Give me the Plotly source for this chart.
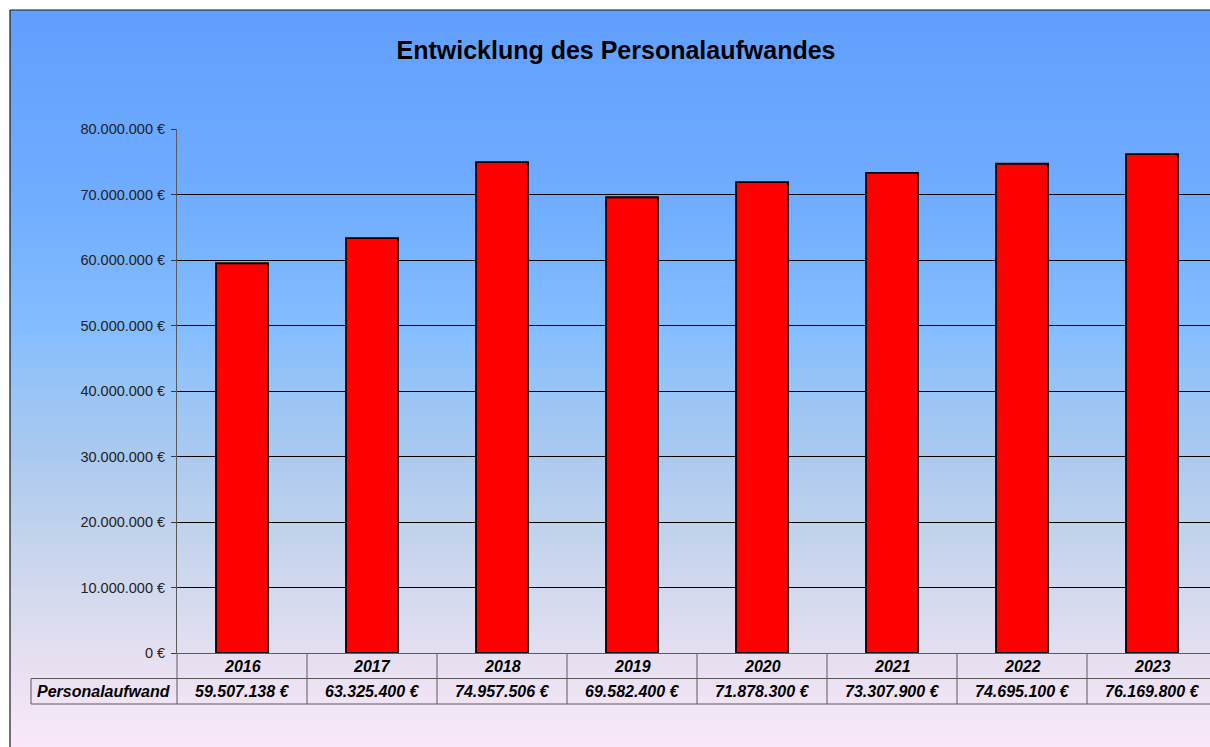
"""Entwicklung des Personalaufwandes - bar chart with data table."""
import base64
import struct
import zlib

import plotly.graph_objects as go

YEARS = ["2016", "2017", "2018", "2019", "2020", "2021", "2022", "2023"]
PERSONALAUFWAND = [59507138, 63325400, 74957506, 69582400,
                   71878300, 73307900, 74695100, 76169800]
SERIES_NAME = "Personalaufwand"
TITLE = "Entwicklung des Personalaufwandes"

# background gradient stops (fraction from top, rgb)
GRADIENT = [
    (0.00, (97, 159, 255)),
    (0.25, (112, 172, 255)),
    (0.43, (132, 189, 255)),
    (0.50, (150, 196, 248)),
    (0.60, (170, 201, 240)),
    (0.70, (192, 210, 236)),
    (0.80, (214, 218, 238)),
    (0.90, (234, 225, 242)),
    (1.00, (250, 233, 248)),
]

W, H = 1210, 747
L, R, T, B = 177, 0, 129, 747 - 653
PW, PH = W - L - R, H - T - B


def px_x(px):
    """pixel x -> paper x"""
    return (px - L) / PW


def px_y(py):
    """pixel y -> paper y"""
    return (H - B - py) / PH


def gradient_png(stops, rows=256):
    raw = b""
    for r in range(rows):
        f = r / (rows - 1)
        for (f0, c0), (f1, c1) in zip(stops, stops[1:]):
            if f0 <= f <= f1:
                t = (f - f0) / (f1 - f0)
                rgb = [round(a + (b - a) * t) for a, b in zip(c0, c1)]
                break
        raw += b"\x00" + bytes(rgb)

    def chunk(tag, data):
        body = tag + data
        return struct.pack(">I", len(data)) + body + struct.pack(">I", zlib.crc32(body) & 0xFFFFFFFF)

    png = b"\x89PNG\r\n\x1a\n"
    png += chunk(b"IHDR", struct.pack(">IIBBBBB", 1, rows, 8, 2, 0, 0, 0))
    png += chunk(b"IDAT", zlib.compress(raw))
    png += chunk(b"IEND", b"")
    return "data:image/png;base64," + base64.b64encode(png).decode()


def euro(v):
    return f"{v:,}".replace(",", ".") + " €"


FONT = "Liberation Sans, Arial, sans-serif"
TABLE_LINE = "#5a5a5a"
TABLE_FONT = {"family": FONT, "size": 16, "color": "#000"}

fig = go.Figure()
fig.add_trace(go.Bar(
    x=YEARS,
    y=PERSONALAUFWAND,
    name=SERIES_NAME,
    width=0.4,
    marker={"color": "#ff0000", "line": {"color": "#000000", "width": 1.8}},
    hoverinfo="x+y",
))

# background image + chart frame
fig.add_layout_image(
    source=gradient_png(GRADIENT),
    xref="paper", yref="paper",
    x=px_x(10), y=px_y(10),
    sizex=(1240 - 10) / PW, sizey=(749 - 10) / PH,
    sizing="stretch", layer="below",
    xanchor="left", yanchor="top",
)

line = {"color": TABLE_LINE, "width": 1}
shapes = [
    # frame left + top
    dict(type="line", xref="paper", yref="paper", x0=px_x(10), x1=px_x(10),
         y0=px_y(10), y1=px_y(760), line={"color": "#1a1a1a", "width": 1.2}),
    dict(type="line", xref="paper", yref="paper", x0=px_x(10), x1=px_x(1230),
         y0=px_y(10), y1=px_y(10), line={"color": "#1a1a1a", "width": 1.2}),
    # table: left edge below axis
    dict(type="line", xref="x domain", yref="paper", x0=0, x1=0,
         y0=0, y1=px_y(704), line=line),
    # table: row separators
    dict(type="line", xref="paper", yref="paper", x0=px_x(31), x1=1,
         y0=px_y(678.5), y1=px_y(678.5), line=line),
    dict(type="line", xref="paper", yref="paper", x0=px_x(31), x1=1,
         y0=px_y(704), y1=px_y(704), line=line),
    dict(type="line", xref="paper", yref="paper", x0=px_x(31), x1=px_x(31),
         y0=px_y(678.5), y1=px_y(704), line=line),
]
# column separators between categories
for i in range(1, len(YEARS)):
    shapes.append(dict(type="line", xref="x", yref="paper", x0=i - 0.5, x1=i - 0.5,
                       y0=0, y1=px_y(704), line=line))

annotations = [
    dict(text=f"<b><i>{SERIES_NAME}</i></b>", xref="paper", yref="paper",
         x=px_x(104), y=px_y(691.5), xanchor="center", yanchor="middle",
         showarrow=False, font=TABLE_FONT),
]
for i, (year, val) in enumerate(zip(YEARS, PERSONALAUFWAND)):
    annotations.append(dict(text=f"<b><i>{year}</i></b>", xref="x", yref="paper",
                            x=i, y=px_y(666), xanchor="center", yanchor="middle",
                            showarrow=False, font=TABLE_FONT))
    annotations.append(dict(text=f"<b><i>{euro(val)}</i></b>", xref="x", yref="paper",
                            x=i, y=px_y(691.5), xanchor="center", yanchor="middle",
                            showarrow=False, font=TABLE_FONT))

fig.update_layout(
    width=W, height=H, autosize=False,
    margin={"l": L, "r": R, "t": T, "b": B, "pad": 0},
    paper_bgcolor="#ffffff",
    plot_bgcolor="rgba(0,0,0,0)",
    separators=",.",
    showlegend=False,
    title={
        "text": f"<b>{TITLE}</b>",
        "x": 616 / W, "xref": "container", "xanchor": "center",
        "y": 1 - 50 / H, "yref": "container", "yanchor": "middle",
        "font": {"family": FONT, "size": 25, "color": "#000"},
    },
    xaxis={
        "type": "category",
        "range": [-0.5, -0.5 + PW / 130],
        "showticklabels": False,
        "ticks": "",
        "showgrid": False,
        "showline": True,
        "linecolor": TABLE_LINE,
        "linewidth": 1,
        "zeroline": False,
        "fixedrange": True,
    },
    yaxis={
        "range": [0, 80000000],
        "dtick": 10000000,
        "tickformat": ",.0f",
        "ticksuffix": " €",
        "ticks": "outside",
        "ticklen": 5,
        "tickcolor": "#3a3a3a",
        "ticklabelstandoff": 3,
        "tickfont": {"family": FONT, "size": 14.5, "color": "#222"},
        "showline": True,
        "linecolor": "#5a5a5a",
        "linewidth": 1,
        "showgrid": True,
        "gridcolor": "#000000",
        "gridwidth": 1,
        "zeroline": False,
        "fixedrange": True,
    },
    shapes=shapes,
    annotations=annotations,
)

# drop the default page margin so the 1210x747 figure fills the window exactly
fig.write_html(
    "out.html",
    config={"displayModeBar": False},
    post_script="document.body.style.margin='0';document.body.style.overflow='hidden';",
)
